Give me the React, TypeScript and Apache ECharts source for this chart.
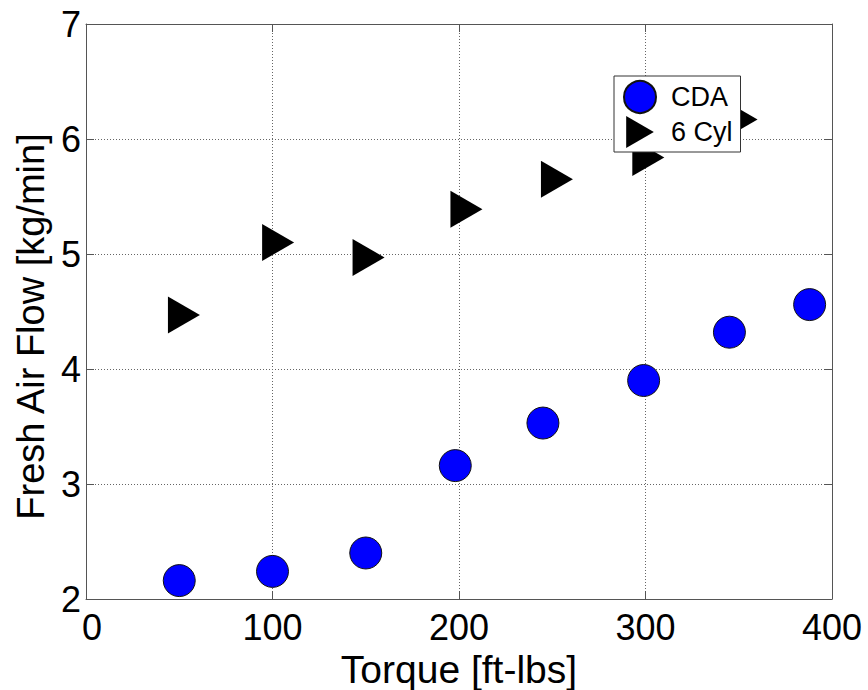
import React, { useEffect, useRef } from "react";
import * as echarts from "echarts";

const cdaX = [50, 100, 150, 198, 245, 299, 345, 388];
const cdaY = [2.16, 2.24, 2.4, 3.16, 3.53, 3.9, 4.32, 4.56];
const cylX = [52.5, 103, 151.5, 204, 252.5, 301.5, 351.5];
const cylY = [4.47, 5.1, 4.97, 5.39, 5.65, 5.84, 6.17];
const xTicks = [0, 100, 200, 300, 400];
const yTicks = [2, 3, 4, 5, 6, 7];
const seriesNames = ["CDA", "6 Cyl"];
const xTitle = "Torque [ft-lbs]";
const yTitle = "Fresh Air Flow [kg/min]";

const FONT = "Liberation Sans, Arial, Helvetica, sans-serif";
const AXIS_COLOR = "#555555";
const RIGHT_TRIANGLE = "path://M0,0L32,18.5L0,37Z";

export default function App() {
  const ref = useRef<HTMLDivElement>(null);
  useEffect(() => {
    document.body.style.margin = "0";
    if (!ref.current) return;
    const chart = echarts.init(ref.current, undefined, { renderer: "svg" });
    const xMin = xTicks[0];
    const xMax = xTicks[xTicks.length - 1];
    const xInt = xTicks[1] - xTicks[0];
    const yMin = yTicks[0];
    const yMax = yTicks[yTicks.length - 1];
    const yInt = yTicks[1] - yTicks[0];
    const axisCommon = {
      type: "value",
      axisLine: { show: true, onZero: false, lineStyle: { color: AXIS_COLOR, width: 1 } },
      axisTick: { show: true, inside: true, length: 8, lineStyle: { color: AXIS_COLOR } },
    };
    chart.setOption({
      animation: false,
      backgroundColor: "#ffffff",
      grid: {
        left: 86,
        top: 24,
        width: 746,
        height: 575,
        containLabel: false,
        outerBoundsMode: "none",
      },
      legend: {
        show: true,
        orient: "vertical",
        left: 614,
        top: 76,
        padding: [4, 8, 4, 9],
        itemWidth: 52,
        itemHeight: 32,
        itemGap: 2,
        backgroundColor: "#ffffff",
        borderColor: "#333333",
        borderWidth: 1,
        borderRadius: 0,
        textStyle: { fontFamily: FONT, fontSize: 27, color: "#000000" },
        data: [
          { name: seriesNames[0], icon: "circle" },
          { name: seriesNames[1], icon: RIGHT_TRIANGLE },
        ],
        z: 10,
      },
      xAxis: [
        {
          ...axisCommon,
          position: "bottom",
          min: xMin,
          max: xMax,
          interval: xInt,
          name: xTitle,
          nameLocation: "middle",
          nameGap: 48,
          nameTextStyle: { fontFamily: FONT, fontSize: 39, lineHeight: 38, color: "#000000" },
          axisLabel: {
            show: true,
            margin: 14,
            lineHeight: 28,
            fontFamily: FONT,
            fontSize: 36,
            color: "#000000",
            formatter: (v: number) => (v === xMin ? `{first|${v}}` : `${v}`),
            rich: {
              first: {
                fontFamily: FONT,
                fontSize: 36,
                lineHeight: 28,
                color: "#000000",
                padding: [0, 0, 0, 12],
              },
            },
          },
          splitLine: { show: true, lineStyle: { color: "#666666", type: [1, 2], width: 1 } },
        },
        {
          ...axisCommon,
          position: "top",
          min: xMin,
          max: xMax,
          interval: xInt,
          axisLabel: { show: false },
          splitLine: { show: false },
        },
      ],
      yAxis: [
        {
          ...axisCommon,
          position: "left",
          min: yMin,
          max: yMax,
          interval: yInt,
          name: yTitle,
          nameLocation: "middle",
          nameGap: 33,
          nameTextStyle: { fontFamily: FONT, fontSize: 38, color: "#000000", padding: [0, 30, 0, 0] },
          axisLabel: { show: true, margin: 5, lineHeight: 22, fontFamily: FONT, fontSize: 36, color: "#000000" },
          splitLine: { show: true, lineStyle: { color: "#666666", type: [1, 2], width: 1 } },
        },
        {
          ...axisCommon,
          position: "right",
          min: yMin,
          max: yMax,
          interval: yInt,
          axisLabel: { show: false },
          splitLine: { show: false },
        },
      ],
      series: [
        {
          name: seriesNames[0],
          type: "scatter",
          symbol: "circle",
          symbolSize: 32,
          itemStyle: { color: "#0000ff", borderColor: "#111111", borderWidth: 1, opacity: 1 },
          data: cdaX.map((x, i) => [x, cdaY[i]]),
          z: 3,
        },
        {
          name: seriesNames[1],
          type: "scatter",
          symbol: "triangle",
          symbolRotate: -90,
          symbolSize: [37, 32],
          itemStyle: { color: "#000000", opacity: 1 },
          data: cylX.map((x, i) => [x, cylY[i]]),
          z: 3,
        },
      ],
    });
    return () => chart.dispose();
  }, []);
  return <div ref={ref} style={{ width: 868, height: 690 }} />;
}
